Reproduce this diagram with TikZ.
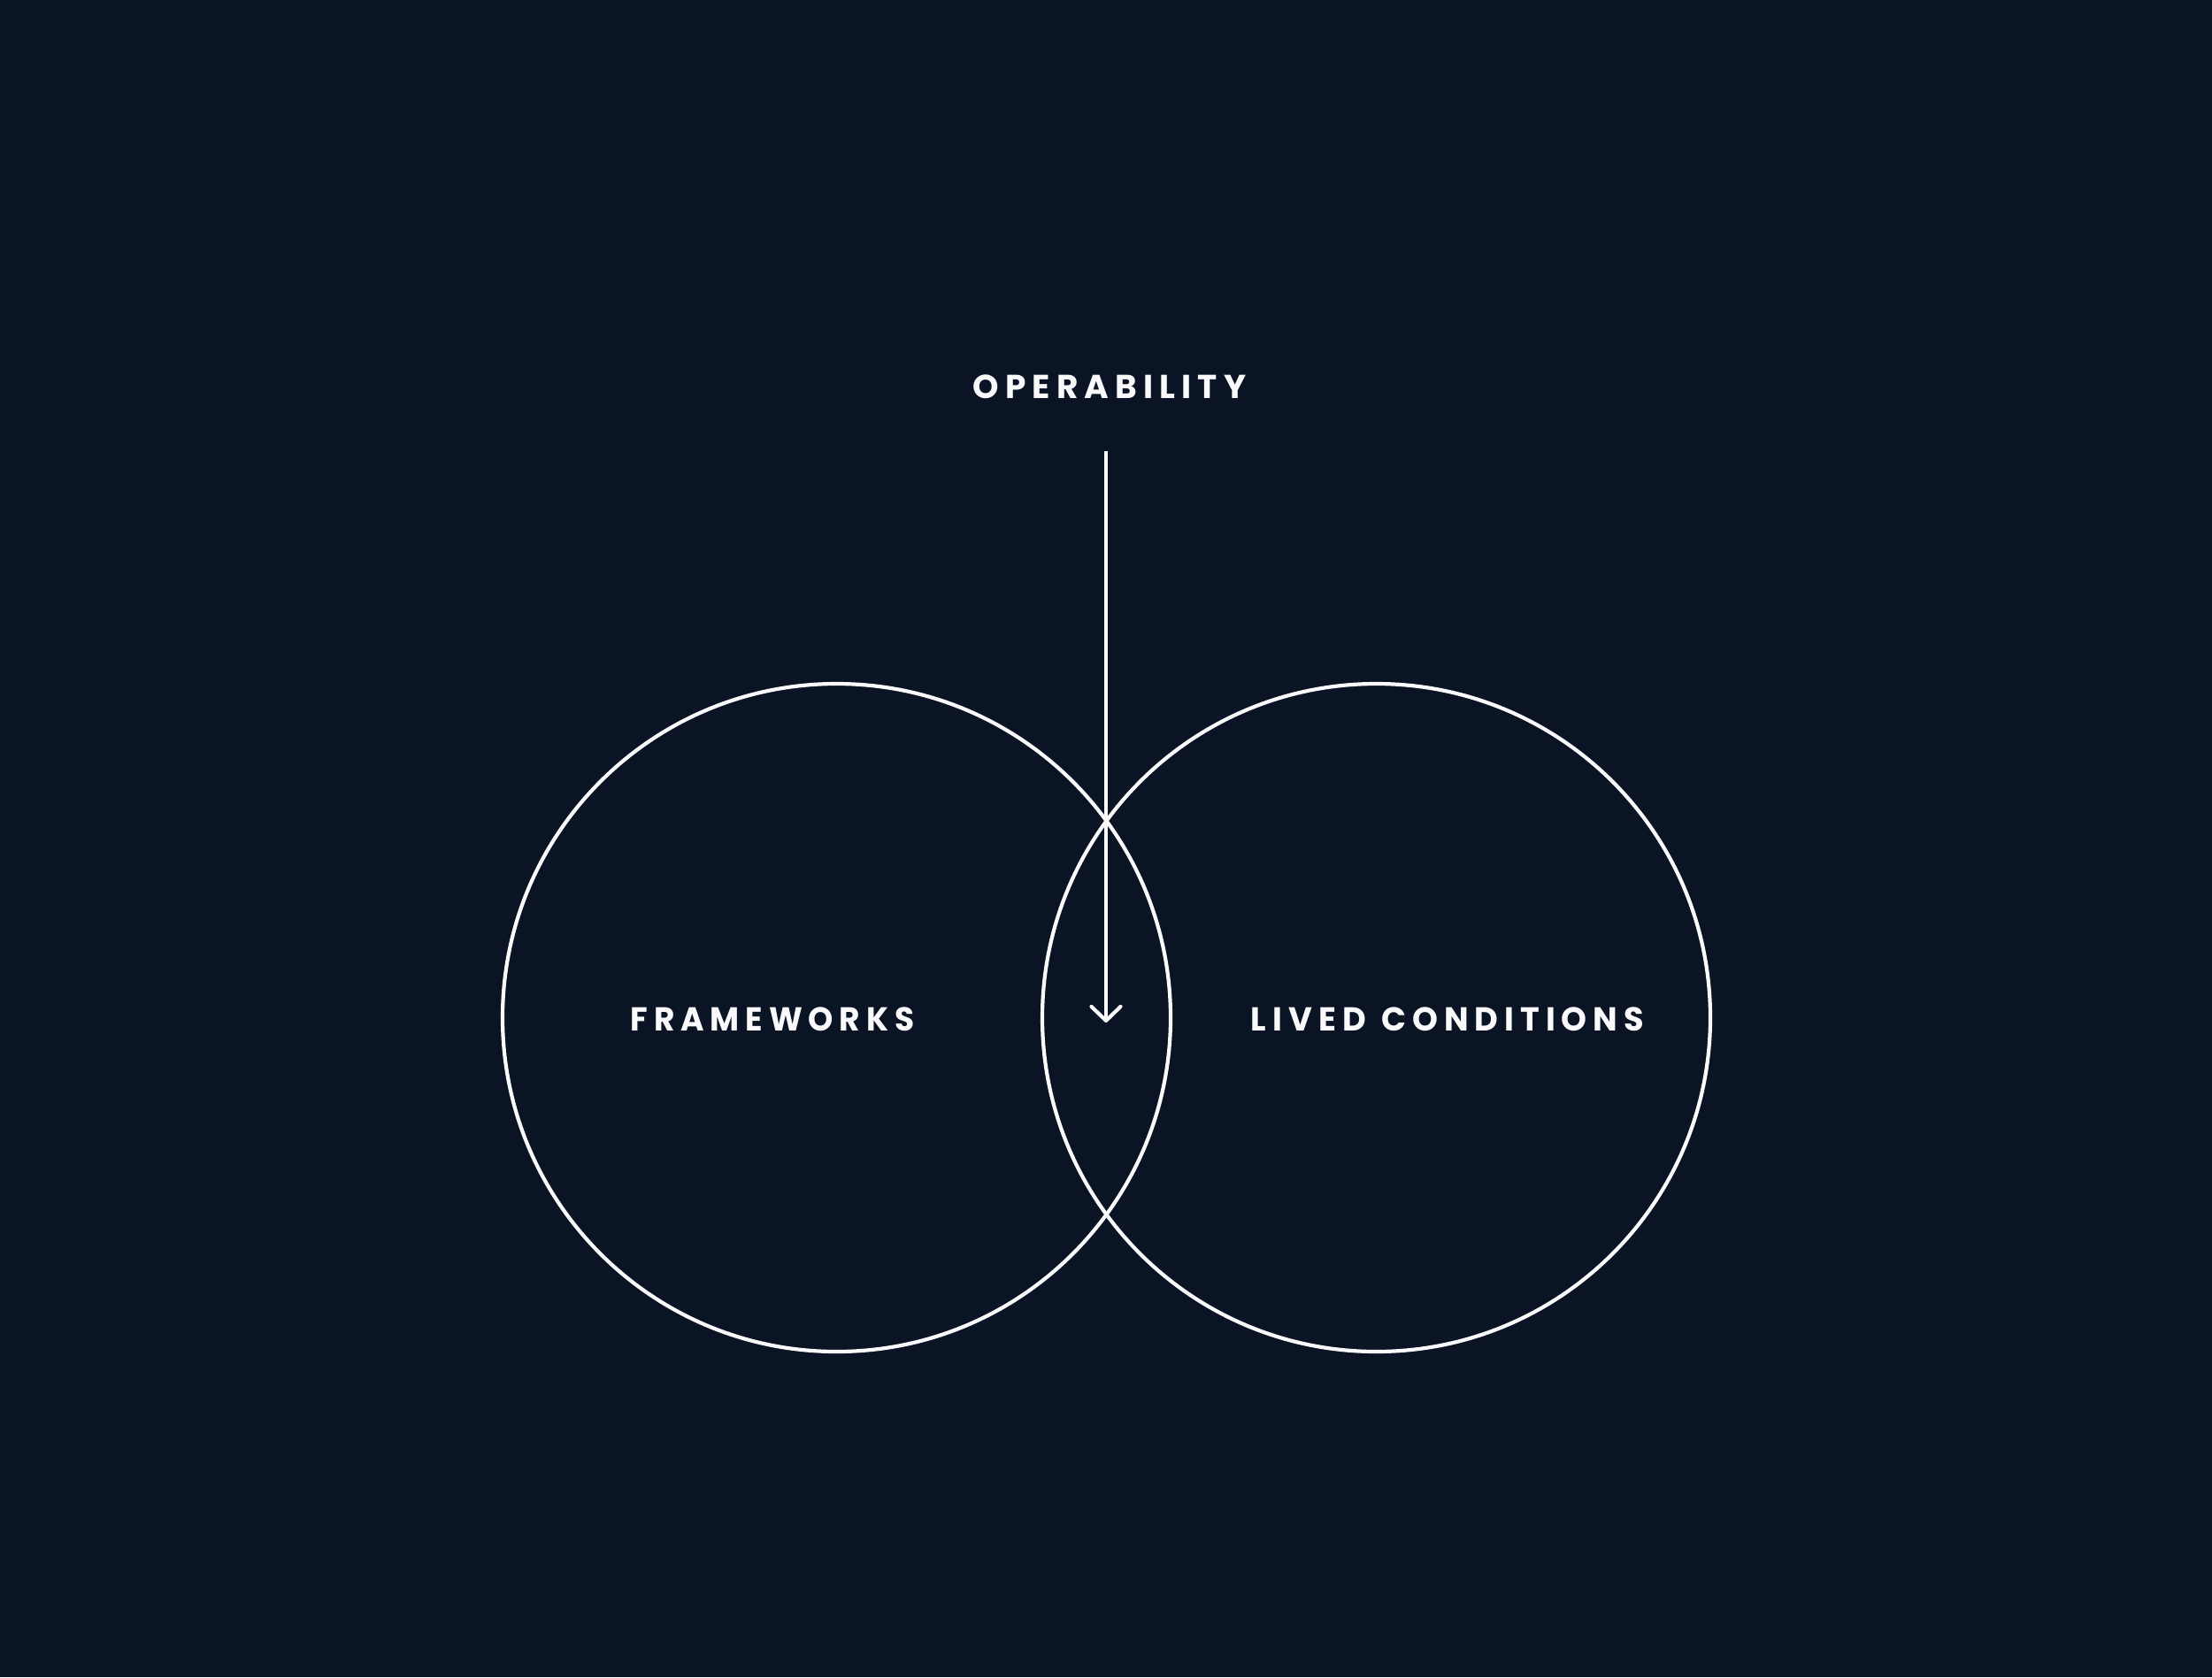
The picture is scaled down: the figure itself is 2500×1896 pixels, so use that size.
\documentclass[tikz,border=0pt]{standalone}
\usepackage{fontspec}
\setmainfont{Fira Sans}
\newfontfamily\labelfont[LetterSpace=19]{Poppins Bold}
\usetikzlibrary{arrows.meta}
\definecolor{bgnavy}{RGB}{10,20,36}
\definecolor{inkwhite}{RGB}{250,250,252}
\tikzset{
  ring/.style={circle, draw=inkwhite, line width=4.2pt, inner sep=0pt, minimum size=755pt},
  caplabel/.style={text=inkwhite, font=\labelfont\fontsize{37.5}{42}\selectfont, inner sep=0pt},
  flowarrow/.style={draw=inkwhite, line width=4.2pt, -{Straight Barb[length=16pt, width=33pt, line cap=round, line join=round]}}
}
\begin{document}
\begin{tikzpicture}[x=1pt, y=-1pt]
  \fill[bgnavy] (0,0) rectangle (2500,1896);
  \useasboundingbox (0,0) rectangle (2500,1896);
  \node[ring] (frameworks) at (945.5,1150.5) {};
  \node[ring] (lived) at (1555.5,1150.5) {};
  \node[caplabel, xscale=0.96, transform shape] (lfw) at (873,1152) {FRAMEWORKS};
  \node[caplabel, xscale=0.98, transform shape] (llc) at (1636,1152) {LIVED\hspace{3pt} CONDITIONS};
  \node[caplabel] (lop) at (1254,437) {OPERABILITY};
  \coordinate (arrowtop) at (1250,510);
  \coordinate (arrowtip) at (1250,1156);
  \draw[flowarrow] (arrowtop) -- (arrowtip);
\end{tikzpicture}
\end{document}
